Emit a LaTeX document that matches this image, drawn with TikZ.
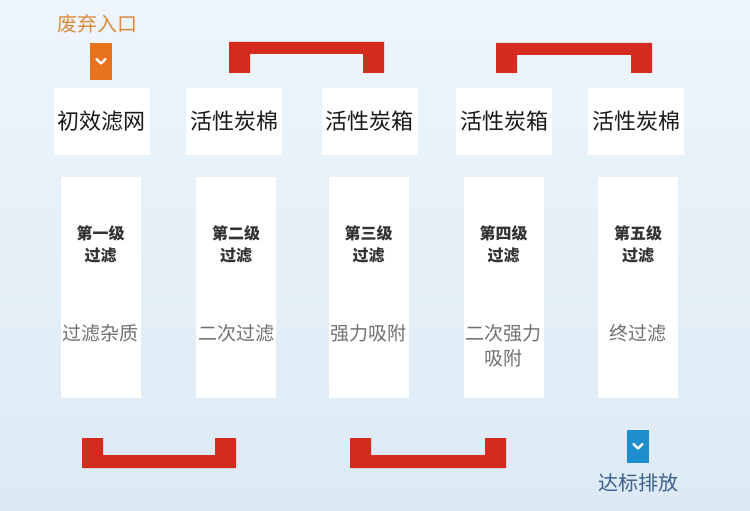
\documentclass[tikz,border=0pt]{standalone}
\usepackage{fontspec}
\setmainfont{Noto Sans CJK SC}
\definecolor{bgtop}{HTML}{EEF5FB}
\definecolor{bgbot}{HTML}{DCEAF5}
\definecolor{bred}{HTML}{D52B1F}
\definecolor{iorange}{HTML}{E8731C}
\definecolor{torange}{HTML}{DC8A3C}
\definecolor{iblue}{HTML}{1F8ECF}
\definecolor{tblue}{HTML}{3D5E8E}
\definecolor{tgray}{HTML}{707070}
\begin{document}
\begin{tikzpicture}[x=1pt,y=-1pt,
  hdr/.style={fill=white,minimum width=96pt,minimum height=67pt,inner sep=0pt,
    font=\fontsize{22}{26}\selectfont,text=black!90},
  stage/.style={fill=white,minimum width=80pt,minimum height=221pt,inner sep=0pt},
  lvl/.style={align=center,inner sep=0pt,font=\fontsize{16}{22}\selectfont\bfseries,text=black!80},
  desc/.style={align=center,inner sep=0pt,font=\fontsize{19}{25}\selectfont,text=tgray},
  bracket/.style={fill=bred},
  chev/.style={draw=white,line width=2.4pt,line cap=round,line join=round}
]
\useasboundingbox (0,0) rectangle (750,511);
\shade[top color=bgtop,bottom color=bgbot] (0,0) rectangle (750,511);

% header boxes
\node[hdr] (h1) at (101.5,121.5) {初效滤网};
\node[hdr] (h2) at (234,121.5) {活性炭棉};
\node[hdr] (h3) at (369.5,121.5) {活性炭箱};
\node[hdr] (h4) at (504,121.5) {活性炭箱};
\node[hdr] (h5) at (636,121.5) {活性炭棉};

% stage boxes
\node[stage] (s1) at (100.5,287.5) {};
\node[stage] (s2) at (236,287.5) {};
\node[stage] (s3) at (368.5,287.5) {};
\node[stage] (s4) at (503.5,287.5) {};
\node[stage] (s5) at (638,287.5) {};

\node[lvl] (l1) at (100.5,244) {第一级\\过滤};
\node[lvl] (l2) at (236,244) {第二级\\过滤};
\node[lvl] (l3) at (368.5,244) {第三级\\过滤};
\node[lvl] (l4) at (503.5,244) {第四级\\过滤};
\node[lvl] (l5) at (638,244) {第五级\\过滤};

\node[desc] (d1) at (100.5,333) {过滤杂质};
\node[desc] (d2) at (236,333) {二次过滤};
\node[desc] (d3) at (368.5,333) {强力吸附};
\node[desc] (d4) at (503.5,345.5) {二次强力\\吸附};
\node[desc] (d5) at (638,333) {终过滤};

% top brackets
\fill[bracket] (229,73) -- (229,42) -- (384,42) -- (384,73) -- (363,73) -- (363,54) -- (250,54) -- (250,73) -- cycle;
\fill[bracket] (496,73) -- (496,43) -- (652,43) -- (652,73) -- (631,73) -- (631,55) -- (517,55) -- (517,73) -- cycle;
% bottom brackets
\fill[bracket] (82,438) -- (82,468) -- (236,468) -- (236,438) -- (215,438) -- (215,455) -- (103,455) -- (103,438) -- cycle;
\fill[bracket] (350,438) -- (350,468) -- (506,468) -- (506,438) -- (485,438) -- (485,455) -- (371,455) -- (371,438) -- cycle;

% entry
\node[inner sep=0pt,font=\fontsize{20}{24}\selectfont,text=torange] (in) at (97,24) {废弃入口};
\node[fill=iorange,minimum width=22pt,minimum height=37pt,inner sep=0pt] (ii) at (101,61.5) {};
\draw[chev] ([xshift=-4.5pt,yshift=2.5pt]ii.center) -- ([yshift=-2pt]ii.center) -- ([xshift=4.5pt,yshift=2.5pt]ii.center);

% exit
\node[fill=iblue,minimum width=22pt,minimum height=33pt,inner sep=0pt] (oi) at (638,446.5) {};
\draw[chev] ([xshift=-4.5pt,yshift=2.5pt]oi.center) -- ([yshift=-2pt]oi.center) -- ([xshift=4.5pt,yshift=2.5pt]oi.center);
\node[inner sep=0pt,font=\fontsize{20}{24}\selectfont,text=tblue] (out) at (638,483) {达标排放};
\end{tikzpicture}
\end{document}
